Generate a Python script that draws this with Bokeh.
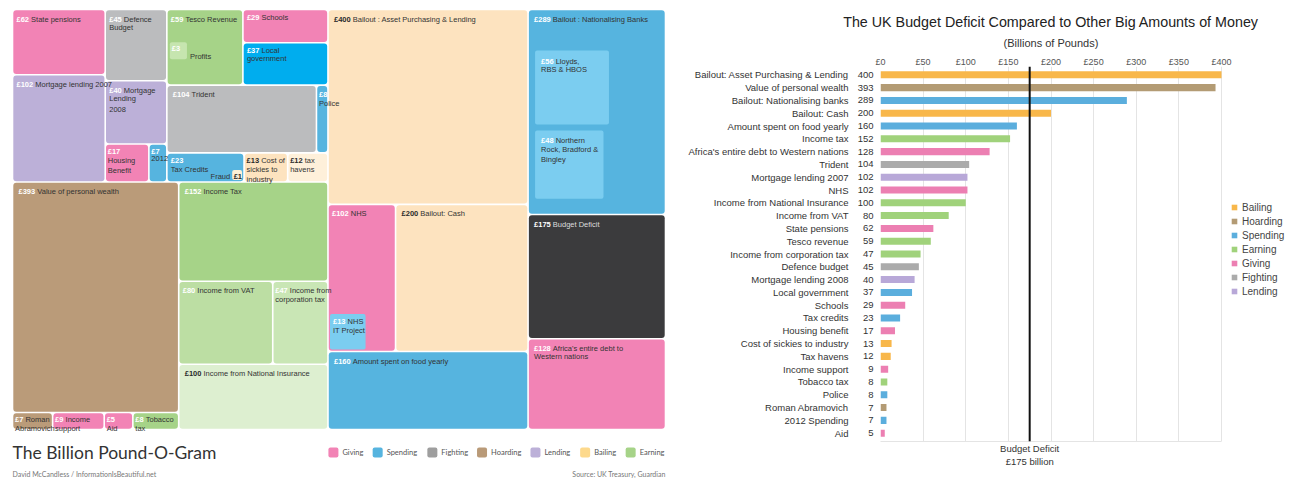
import math
import numpy as np
from bokeh.plotting import figure
from bokeh.models import (ColumnDataSource, Range1d, LinearAxis,
                          FixedTicker, PrintfTickFormatter, Span, Legend, LegendItem, Title)
from bokeh.layouts import row
from bokeh.core.properties import value
from bokeh.embed import file_html
from bokeh.resources import INLINE

# ------------------------------------------------------------------ data: treemap
tm_ids = ["pensions", "mort07", "defence", "mort08", "housing", "olymp", "tesco", "schools",
          "localgov", "trident", "police", "taxcred", "sickies", "havens", "wealth", "roman",
          "incsupp", "aid", "tobacco", "inctax", "vat", "corp", "ni", "asset", "nhs", "cash",
          "food", "banks", "deficit", "africa"]
tm_values = [62, 102, 45, 40, 17, 7, 59, 29, 37, 104, 8, 23, 13, 12, 393, 7, 9, 5, 8, 152, 80,
             47, 100, 400, 102, 200, 160, 289, 175, 128]
tm_labels = ["State pensions", "Mortgage lending 2007", "Defence\nBudget", "Mortgage\nLending\n2008",
             "\nHousing\nBenefit", "\n2012", "Tesco Revenue", "Schools", "Local\ngovernment",
             "Trident", "\nPolice", "\nTax Credits", "Cost of\nsickies to\nindustry", "tax\nhavens",
             "Value of personal wealth", "Roman\nAbramovich", "Income\nsupport", "\nAid",
             "Tobacco\ntax", "Income Tax", "Income from VAT", "Income from\ncorporation tax",
             "Income from National Insurance", "Bailout : Asset Purchasing & Lending", "NHS",
             "Bailout: Cash", "Amount spent on food yearly", "Bailout : Nationalising Banks",
             "Budget Deficit", "Africa's entire debt to\nWestern nations"]
tm_groups = ["Giving", "Lending", "Fighting", "Lending", "Giving", "Spending", "Earning", "Giving",
             "Spending", "Fighting", "Spending", "Spending", "Bailing", "Bailing", "Hoarding",
             "Hoarding", "Giving", "Giving", "Earning", "Earning", "Earning", "Earning", "Earning",
             "Bailing", "Giving", "Bailing", "Spending", "Spending", "Deficit", "Giving"]

sub_ids = ["profits", "fraud", "nhsit", "lloyds", "northern"]
sub_parent = ["tesco", "taxcred", "nhs", "banks", "banks"]
sub_values = [3, 1, 13, 56, 48]
sub_labels = ["Profits", "Fraud", "NHS\nIT Project", "Lloyds,\nRBS & HBOS",
              "Northern\nRock, Bradford &\nBingley"]

legend_groups_tm = ["Giving", "Spending", "Fighting", "Hoarding", "Lending", "Bailing", "Earning"]

# ------------------------------------------------------------------ data: bar chart
bar_names = ["Bailout: Asset Purchasing & Lending", "Value of personal wealth",
             "Bailout: Nationalising banks", "Bailout: Cash", "Amount spent on food yearly",
             "Income tax", "Africa's entire debt to Western nations", "Trident",
             "Mortgage lending 2007", "NHS", "Income from National Insurance", "Income from VAT",
             "State pensions", "Tesco revenue", "Income from corporation tax", "Defence budget",
             "Mortgage lending 2008", "Local government", "Schools", "Tax credits",
             "Housing benefit", "Cost of sickies to industry", "Tax havens", "Income support",
             "Tobacco tax", "Police", "Roman Abramovich", "2012 Spending", "Aid"]
bar_values = [400, 393, 289, 200, 160, 152, 128, 104, 102, 102, 100, 80, 62, 59, 47, 45, 40, 37,
              29, 23, 17, 13, 12, 9, 8, 8, 7, 7, 5]
bar_groups = ["Bailing", "Hoarding", "Spending", "Bailing", "Spending", "Earning", "Giving",
              "Fighting", "Lending", "Giving", "Earning", "Earning", "Giving", "Earning", "Earning",
              "Fighting", "Lending", "Spending", "Giving", "Spending", "Giving", "Bailing",
              "Bailing", "Giving", "Earning", "Spending", "Hoarding", "Spending", "Giving"]
bar_legend_order = ["Bailing", "Hoarding", "Spending", "Earning", "Giving", "Fighting", "Lending"]
x_ticks = [0, 50, 100, 150, 200, 250, 300, 350, 400]
x_max = 400
deficit_value = 175
bar_title = "The UK Budget Deficit Compared to Other Big Amounts of Money"
bar_subtitle = "(Billions of Pounds)"

# ------------------------------------------------------------------ styles
TM_COLORS = {"Giving": "#F283B5", "Spending": "#56B4DF", "Fighting": "#BBBCBE",
             "Hoarding": "#BA9B79", "Lending": "#BCB0D8", "Bailing": "#FDE3BF",
             "Earning": "#A6D388", "Deficit": "#3B3B3D"}
TILE_OVERRIDE = {"localgov": "#00ADEE", "havens": "#FEF0DA", "vat": "#BCDEA3",
                 "corp": "#C9E6B5", "ni": "#DDEFD0"}
SUB_COLORS = {"profits": "#C6E5AF", "fraud": "#FEF0D6", "nhsit": "#7BCDF0",
              "lloyds": "#7BCDF0", "northern": "#7BCDF0"}
SUB_ANCHOR = {"profits": "midleft", "fraud": "botright", "nhsit": "botleft",
              "lloyds": "stack", "northern": "stack"}
TM_LEGEND_COLORS = {"Giving": "#F283B5", "Spending": "#56B4DF", "Fighting": "#9E9E9E",
                    "Hoarding": "#B99A78", "Lending": "#BCB0D8", "Bailing": "#FDD98C",
                    "Earning": "#A6D388"}
BAR_COLORS = {"Bailing": "#F8B74A", "Hoarding": "#B39B74", "Spending": "#5BAEDD",
              "Earning": "#A0D27B", "Giving": "#EC7FB2", "Fighting": "#ABABAB",
              "Lending": "#B8A8D8"}

FONT = "Liberation Sans"
FS = 7.5
LH = FS * 1.15

W = {' ': 278, '!': 278, "'": 191, '(': 333, ')': 333, ',': 278, '-': 333, '.': 278, '/': 278,
     ':': 278, '&': 667, '£': 556,
     'A': 667, 'B': 667, 'C': 722, 'D': 722, 'E': 667, 'F': 611, 'G': 778, 'H': 722, 'I': 278,
     'J': 500, 'K': 667, 'L': 556, 'M': 833, 'N': 722, 'O': 778, 'P': 667, 'Q': 778, 'R': 722,
     'S': 667, 'T': 611, 'U': 722, 'V': 667, 'W': 944, 'X': 667, 'Y': 667, 'Z': 611,
     'a': 556, 'b': 556, 'c': 500, 'd': 556, 'e': 556, 'f': 278, 'g': 556, 'h': 556, 'i': 222,
     'j': 222, 'k': 500, 'l': 222, 'm': 833, 'n': 556, 'o': 556, 'p': 556, 'q': 556, 'r': 333,
     's': 500, 't': 278, 'u': 556, 'v': 500, 'w': 722, 'x': 500, 'y': 500, 'z': 500}


def tw(s, size):
    return sum(W.get(c, 556) for c in s) / 1000.0 * size


def lum(c):
    r, g, b = (int(c[i:i + 2], 16) / 255 for i in (1, 3, 5))
    return 0.2126 * r + 0.7152 * g + 0.0722 * b


# ------------------------------------------------------------------ treemap layout (slice & dice)
TREE = ("h", [
    ("v", [
        ("h", [("v", ["pensions", "mort07"]),
               ("v", ["defence", "mort08", ("h", ["housing", "olymp"])]),
               ("v", [("h", ["tesco", ("v", ["schools", "localgov"])]),
                      ("h", ["trident", "police"]),
                      ("h", ["taxcred", "sickies", "havens"])])]),
        ("h", [("v", ["wealth", ("h", ["roman", "incsupp", "aid", "tobacco"])]),
               ("v", ["inctax", ("h", ["vat", "corp"]), "ni"])])]),
    ("v", ["asset", ("h", ["nhs", "cash"]), "food"]),
    ("v", ["banks", "deficit", "africa"]),
])
val = dict(zip(tm_ids, tm_values))


def total(node):
    if isinstance(node, str):
        return val[node]
    return sum(total(k) for k in node[1])


rects = {}


def layout(node, x0, y0, x1, y1):
    if isinstance(node, str):
        rects[node] = (x0, y0, x1, y1)
        return
    d, kids = node
    tot = total(node)
    pos = x0 if d == "h" else y0
    for k in kids:
        f = total(k) / tot
        if d == "h":
            w = (x1 - x0) * f
            layout(k, pos, y0, pos + w, y1)
            pos += w
        else:
            h = (y1 - y0) * f
            layout(k, x0, pos, x1, pos + h)
            pos += h


PW, PH = 672, 470
layout(TREE, 4, 1, 657, 421)

GAP = 0.8
tiles = dict(l=[], r=[], t=[], b=[], color=[])
amt = dict(x=[], y=[], text=[], color=[], align=[])
lab = dict(x=[], y=[], text=[], color=[], align=[])


def add_text(x0, y0, w, h, amount, label, fill, ix=None, iy=None):
    ix = (6 if w > 100 else (4 if w > 60 else 2.5)) if ix is None else ix
    iy = (5 if h > 60 else 3) if iy is None else iy
    L = lum(fill)
    ac = "#FFFFFF" if L < 0.88 else "#2B2B2B"
    lc = "#DDDDDD" if L < 0.3 else "#333333"
    ax, ay = x0 + ix, y0 + iy
    a = "£%d" % amount
    amt["x"].append(ax); amt["y"].append(ay); amt["text"].append(a)
    amt["color"].append(ac); amt["align"].append("left")
    lines = label.split("\n")
    if lines[0]:
        lab["x"].append(ax + tw(a + " ", FS)); lab["y"].append(ay); lab["text"].append(lines[0])
        lab["color"].append(lc); lab["align"].append("left")
    if len(lines) > 1:
        lab["x"].append(ax); lab["y"].append(ay + LH); lab["text"].append("\n".join(lines[1:]))
        lab["color"].append(lc); lab["align"].append("left")


for tid, v, label, g in zip(tm_ids, tm_values, tm_labels, tm_groups):
    x0, y0, x1, y1 = rects[tid]
    fill = TILE_OVERRIDE.get(tid, TM_COLORS[g])
    tiles["l"].append(x0 + GAP); tiles["r"].append(x1 - GAP)
    tiles["t"].append(y0 + GAP); tiles["b"].append(y1 - GAP)
    tiles["color"].append(fill)
    add_text(x0, y0, x1 - x0, y1 - y0, v, label, fill)

subs = dict(l=[], r=[], t=[], b=[], color=[])
stack_pos = {}
for sid, par, v, label in zip(sub_ids, sub_parent, sub_values, sub_labels):
    px0, py0, px1, py1 = rects[par]
    side = math.sqrt(v / val[par] * (px1 - px0) * (py1 - py0))
    anc = SUB_ANCHOR[sid]
    if anc == "midleft":
        sx0, sy0 = px0 + 3, (py0 + py1) / 2 - side * 0.3
    elif anc == "botright":
        sx0, sy0 = px1 - 2 - side, py1 - 2 - side
    elif anc == "botleft":
        sx0, sy0 = px0 + 2, py1 - 2 - side
    else:
        sy0 = stack_pos.get(par, py0 + 0.2 * (py1 - py0))
        sx0 = px0 + 7
        stack_pos[par] = sy0 + side + 6
    fill = SUB_COLORS[sid]
    subs["l"].append(sx0); subs["r"].append(sx0 + side)
    subs["t"].append(sy0); subs["b"].append(sy0 + side)
    subs["color"].append(fill)
    if anc == "midleft":
        add_text(sx0, sy0, side, side, v, "", fill, ix=2, iy=2)
        lab["x"].append(sx0 + side + 3); lab["y"].append(sy0 + side * 0.55)
        lab["text"].append(label); lab["color"].append("#333333"); lab["align"].append("left")
    elif anc == "botright":
        add_text(sx0, sy0, side, side, v, "", fill, ix=1.5, iy=1.5)
        lab["x"].append(sx0 - 2); lab["y"].append(sy0 + side * 0.15)
        lab["text"].append(label); lab["color"].append("#333333"); lab["align"].append("right")
    else:
        add_text(sx0, sy0, side, side, v, label, fill,
                 ix=3 if side < 50 else 6, iy=3 if side < 50 else 6)

p1 = figure(width=PW, height=PH, x_range=Range1d(0, PW), y_range=Range1d(PH, 0),
            output_backend="svg", toolbar_location=None, min_border=0, title=None,
            x_axis_location=None, y_axis_location=None)
p1.frame_align = False
p1.grid.visible = False
p1.outline_line_color = None
p1.background_fill_color = "white"

p1.quad(left="l", right="r", top="t", bottom="b", source=ColumnDataSource(tiles),
        fill_color="color", line_color=None, border_radius=3)
p1.quad(left="l", right="r", top="t", bottom="b", source=ColumnDataSource(subs),
        fill_color="color", line_color=None, border_radius=2)
p1.text(x="x", y="y", text="text", source=ColumnDataSource(amt), text_color="color",
        text_align="align", text_baseline="top", text_font=value(FONT), text_font_size="7.5px",
        text_font_style="bold", text_line_height=1.15)
p1.text(x="x", y="y", text="text", source=ColumnDataSource(lab), text_color="color",
        text_align="align", text_baseline="top", text_font=value(FONT), text_font_size="7.5px",
        text_line_height=1.15)

# bottom title, legend, footer
p1.text(x=[4], y=[444], text=["The Billion Pound-O-Gram"], text_font=value("Lato"),
        text_font_size="17.5px", text_color="#333333", text_baseline="middle")
LFS = 7.5
items = []
for g in legend_groups_tm:
    items.append((g, 10 + 4 + tw(g, LFS)))
total_w = sum(w for _, w in items) + 9 * (len(items) - 1)
cx = 657 - total_w
lg = dict(l=[], r=[], t=[], b=[], color=[])
lt = dict(x=[], y=[], text=[])
for g, w in items:
    lg["l"].append(cx); lg["r"].append(cx + 10); lg["t"].append(439); lg["b"].append(449)
    lg["color"].append(TM_LEGEND_COLORS[g])
    lt["x"].append(cx + 14); lt["y"].append(444); lt["text"].append(g)
    cx += w + 9
p1.quad(left="l", right="r", top="t", bottom="b", source=ColumnDataSource(lg),
        fill_color="color", line_color=None, border_radius=2)
p1.text(x="x", y="y", text="text", source=ColumnDataSource(lt), text_font=value("Lato"),
        text_font_size="7.5px", text_color="#555555", text_baseline="middle")
p1.text(x=[4], y=[465], text=["David McCandless / InformationIsBeautiful.net"],
        text_font=value("Lato"), text_font_size="7px", text_color="#777777",
        text_baseline="middle")
p1.text(x=[657], y=[465], text=["Source: UK Treasury, Guardian"], text_font=value("Lato"),
        text_font_size="7px", text_color="#777777", text_baseline="middle", text_align="right")

# ------------------------------------------------------------------ bar chart
n = len(bar_names)
ypos = list(range(n))
P2W, LEFT_B = 606, 200
BAR_PX = 341                      # width in px used by the 0..x_max scale
FRAME_W = P2W - LEFT_B            # frame also hosts the legend on its right
x_end = x_max * FRAME_W / BAR_PX

p2 = figure(width=P2W, height=464, output_backend="svg", toolbar_location=None, title=None,
            x_range=Range1d(0, x_end), y_range=Range1d(n - 0.5 + 0.15, -0.5 - 0.15),
            x_axis_location="above", y_axis_location=None,
            min_border_left=LEFT_B, min_border_right=0, min_border_top=58, min_border_bottom=31)
p2.frame_align = False
p2.outline_line_color = None
p2.ygrid.visible = False
p2.xgrid.ticker = FixedTicker(ticks=x_ticks)
p2.xgrid.grid_line_color = "#E4E4E4"

xa = p2.xaxis[0]
xa.ticker = FixedTicker(ticks=x_ticks)
xa.formatter = PrintfTickFormatter(format="£%d")
xa.axis_line_color = None
xa.major_tick_line_color = None
xa.minor_tick_line_color = None
xa.major_tick_in = 0
xa.major_tick_out = 0
xa.major_label_standoff = 0
xa.major_label_text_font = FONT
xa.major_label_text_font_size = "9px"
xa.major_label_text_color = "#555555"

val_axis = LinearAxis(ticker=FixedTicker(ticks=ypos),
                      major_label_overrides={i: str(v) for i, v in zip(ypos, bar_values)},
                      major_label_standoff=7)
name_axis = LinearAxis(ticker=FixedTicker(ticks=ypos),
                       major_label_overrides={i: s for i, s in zip(ypos, bar_names)},
                       major_label_standoff=6)
p2.add_layout(val_axis, "left")
p2.add_layout(name_axis, "left")
for ax in (val_axis, name_axis):
    ax.axis_line_color = None
    ax.major_tick_line_color = None
    ax.minor_tick_line_color = None
    ax.major_tick_in = 0
    ax.major_tick_out = 0
    ax.minor_tick_in = 0
    ax.minor_tick_out = 0
    ax.major_label_text_font = FONT
    ax.major_label_text_font_size = "9.5px"
    ax.major_label_text_color = "#333333"

bottom_axis = LinearAxis(ticker=FixedTicker(ticks=[deficit_value]), bounds=(0, x_max),
                         formatter=PrintfTickFormatter(format="Budget Deficit\n£%d billion"),
                         axis_line_color="#E4E4E4", major_tick_line_color=None,
                         minor_tick_line_color=None, major_tick_in=0, major_tick_out=0,
                         major_label_standoff=1, major_label_text_font=FONT,
                         major_label_text_font_size="9.5px", major_label_text_color="#333333")
p2.add_layout(bottom_axis, "below")

legend_items = []
for g in bar_legend_order:
    idx = [i for i, gg in enumerate(bar_groups) if gg == g]
    src = ColumnDataSource(dict(y=[ypos[i] for i in idx], right=[bar_values[i] for i in idx]))
    p2.hbar(y="y", left=0, right="right", height=0.55, source=src,
            fill_color=BAR_COLORS[g], line_color=None)
    proxy = p2.scatter(x=np.array([np.nan]), y=np.array([np.nan]), marker="square", size=6,
                       fill_color=BAR_COLORS[g], line_color=None)
    legend_items.append(LegendItem(label=g, renderers=[proxy]))

p2.add_layout(Span(location=deficit_value, dimension="height", line_color="#111111",
                   line_width=2))

leg = Legend(items=legend_items, location=(BAR_PX + 6, 143), orientation="vertical",
             padding=0, margin=0, border_line_color=None, background_fill_alpha=0,
             label_text_font=FONT, label_text_font_size="10px", label_text_color="#444444",
             glyph_width=14, glyph_height=14, label_height=10, label_standoff=1, spacing=0)
p2.add_layout(leg, "center")

TITLE_FS, SUB_FS = 14.3, 11
p2.add_layout(Title(text=bar_subtitle, align="left", offset=BAR_PX / 2 - tw(bar_subtitle, SUB_FS) / 2,
                    text_font=FONT, text_font_size="%spx" % SUB_FS, text_font_style="normal",
                    text_color="#333333", standoff=9), "above")
p2.add_layout(Title(text=bar_title, align="left", offset=BAR_PX / 2 - tw(bar_title, TITLE_FS) / 2,
                    text_font=FONT, text_font_size="%spx" % TITLE_FS, text_font_style="normal",
                    text_color="#222222", standoff=2), "above")

layout_all = row(p1, p2)
layout_all.margin = (8, 0, 0, 8)
open("out.html", "w").write(file_html(layout_all, INLINE))
